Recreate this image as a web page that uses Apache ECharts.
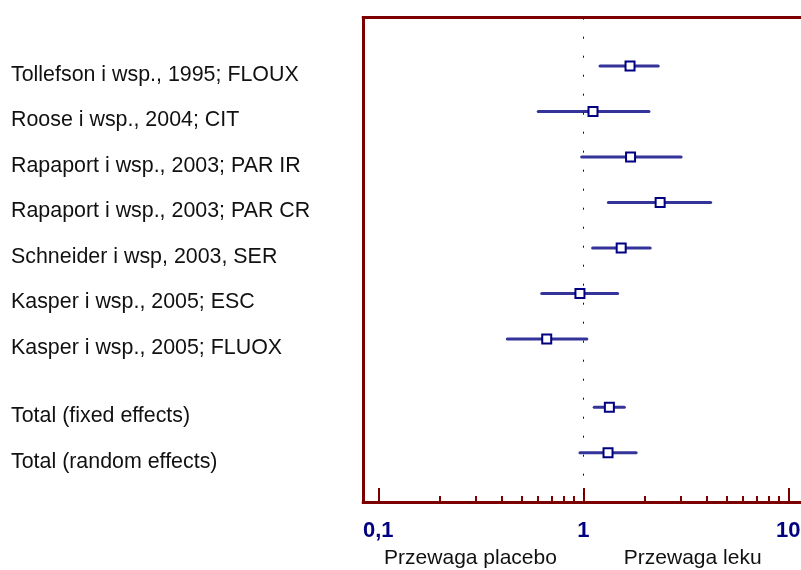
<!DOCTYPE html>
<html><head><meta charset="utf-8">
<script src="https://cdn.jsdelivr.net/npm/echarts@6/dist/echarts.min.js"></script>
<style>html,body{margin:0;padding:0;background:#fff}#c{width:801px;height:570px}</style>
</head><body><div id="c"></div>
<script>
const studies = [
  'Tollefson i wsp., 1995; FLOUX',
  'Roose i wsp., 2004; CIT',
  'Rapaport i wsp., 2003; PAR IR',
  'Rapaport i wsp., 2003; PAR CR',
  'Schneider i wsp, 2003, SER',
  'Kasper i wsp., 2005; ESC',
  'Kasper i wsp., 2005; FLUOX',
  'Total (fixed effects)',
  'Total (random effects)'
];
const rowPos   = [0, 1, 2, 3, 4, 5, 6, 7.5, 8.5];
const estimate = [1.69, 1.115, 1.70, 2.37, 1.53, 0.963, 0.663, 1.34, 1.32];
const lower    = [1.206, 0.603, 0.982, 1.325, 1.11, 0.627, 0.426, 1.13, 0.963];
const upper    = [2.32, 2.09, 3.00, 4.18, 2.12, 1.47, 1.04, 1.585, 1.81];
const majorTicks = [0.1, 1, 10];
const minorTicks = [0.2, 0.3, 0.4, 0.5, 0.6, 0.7, 0.8, 0.9, 2, 3, 4, 5, 6, 7, 8, 9];
const tickLabels = ['0,1', '1', '10'];
const sideLabels = ['Przewaga placebo', 'Przewaga leku'];

const FONT = 'Liberation Sans, Arial, sans-serif';
const RED = '#7d0000';
const NAVY = '#000080';

const chart = echarts.init(document.getElementById('c'), null, {renderer: 'canvas'});
const xMin = 0.0845, xMax = 11.53;
const frameLine = {show: true, onZero: false, lineStyle: {color: RED, width: 3, cap: 'square'}};
const commonX = {
  type: 'log', logBase: 10, min: xMin, max: xMax, gridIndex: 0,
  splitLine: {show: false}
};
chart.setOption({
  animation: false,
  backgroundColor: '#fff',
  grid: {left: 363.3, top: 17.7, right: 0, height: 484.3, show: false,
         containLabel: false, outerBoundsMode: 'none'},
  xAxis: [
    Object.assign({}, commonX, {
      position: 'bottom',
      axisLine: frameLine,
      axisTick: {show: true, inside: true, length: 14, customValues: majorTicks,
                 lineStyle: {color: RED, width: 2}},
      axisLabel: {show: true, customValues: majorTicks, margin: 18,
                  formatter: v => tickLabels[majorTicks.indexOf(+v)] ?? String(v).replace('.', ','),
                  color: NAVY, fontWeight: 'bold', fontSize: 22, fontFamily: FONT}
    }),
    Object.assign({}, commonX, {
      position: 'bottom',
      axisLine: {show: false, onZero: false},
      axisTick: {show: true, inside: true, length: 6, customValues: minorTicks,
                 lineStyle: {color: RED, width: 2}},
      axisLabel: {show: false}
    }),
    Object.assign({}, commonX, {
      position: 'top',
      axisLine: frameLine,
      axisTick: {show: false},
      axisLabel: {show: false}
    })
  ],
  yAxis: {
    type: 'value', inverse: true, min: -1.0615, max: 9.582, position: 'left',
    axisLine: frameLine, axisTick: {show: false}, splitLine: {show: false},
    axisLabel: {show: false}
  },
  graphic: [
    {type: 'text', x: 470.5, y: 558, style: {text: sideLabels[0], fill: '#111',
      font: '21px ' + FONT, textAlign: 'center', textVerticalAlign: 'middle'}},
    {type: 'text', x: 692.7, y: 558, style: {text: sideLabels[1], fill: '#111',
      font: '21px ' + FONT, textAlign: 'center', textVerticalAlign: 'middle'}}
  ],
  series: [
    {
      type: 'custom', xAxisIndex: 0, yAxisIndex: 0, z: 3, clip: false,
      data: rowPos.map((r, i) => [r, xMin]),
      encode: {x: 1, y: 0},
      renderItem: (params, api) => {
        const p = api.coord([xMin, api.value(0)]);
        return {type: 'text', x: 11, y: p[1] + 9,
                style: {text: studies[params.dataIndex], fill: '#111',
                        font: '21.4px ' + FONT, textAlign: 'left', textVerticalAlign: 'middle'}};
      }
    },
    {
      type: 'custom', xAxisIndex: 0, yAxisIndex: 0, z: 3,
      data: rowPos.map((r, i) => [r, lower[i], upper[i]]),
      encode: {x: [1, 2], y: 0},
      renderItem: (params, api) => {
        const a = api.coord([api.value(1), api.value(0)]);
        const b = api.coord([api.value(2), api.value(0)]);
        return {type: 'line', shape: {x1: a[0], y1: a[1], x2: b[0], y2: b[1]},
                style: {stroke: '#333399', lineWidth: 3, lineCap: 'round'}};
      }
    },
    {
      type: 'scatter', xAxisIndex: 0, yAxisIndex: 0, z: 4,
      data: rowPos.map((r, i) => [estimate[i], r]),
      symbol: 'rect', symbolSize: 9,
      itemStyle: {color: '#fff', borderColor: NAVY, borderWidth: 2, opacity: 1},
      markLine: {silent: true, symbol: 'none', label: {show: false},
                 lineStyle: {color: NAVY, width: 1, type: [2, 17]},
                 data: [{xAxis: 1}]}
    }
  ]
});
</script>
</body></html>
